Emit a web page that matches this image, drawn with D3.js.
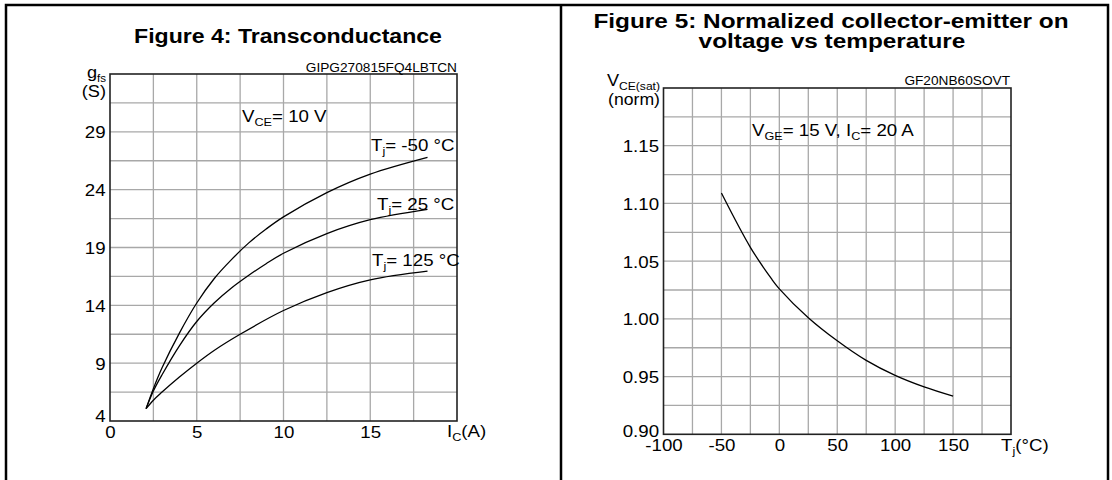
<!DOCTYPE html>
<html><head><meta charset="utf-8">
<script src="https://cdn.jsdelivr.net/npm/d3@7"></script>
<style>
body{margin:0;background:#fff}
svg{display:block}
text{font-family:"Liberation Sans",Arial,Helvetica,sans-serif;fill:#000}
</style>
</head><body>
<svg id="c" width="1112" height="480"></svg>
<script>
// ---------- DATA ----------
const fig4Title = "Figure 4: Transconductance";
const fig4Code = "GIPG270815FQ4LBTCN";
const fig4XTicks = [0, 5, 10, 15];
const fig4YTicks = [4, 9, 14, 19, 24, 29];
const fig4Temps = ["-50", "25", "125"];
const fig4IcM50 = [2.08, 2.5, 3, 4, 5, 6, 7, 8, 9, 10, 12.5, 15, 18.3];
const fig4GfsM50 = [5.07, 6.8, 8.6, 11.6, 14.2, 16.3, 17.95, 19.4, 20.6, 21.65, 23.75, 25.35, 26.8];
const fig4Ic25 = [2.08, 2.5, 3, 4, 5, 6, 7, 8, 9, 10, 12.5, 15, 18.3];
const fig4Gfs25 = [5.07, 6.6, 8.0, 10.5, 12.6, 14.2, 15.5, 16.6, 17.6, 18.5, 20.2, 21.4, 22.3];
const fig4Ic125 = [2.08, 2.5, 3, 4, 5, 6, 7.5, 10, 12.5, 15, 18.3];
const fig4Gfs125 = [5.07, 5.8, 6.5, 7.8, 9.0, 10.1, 11.5, 13.55, 15.1, 16.2, 16.95];

const fig5TitleLines = ["Figure 5: Normalized collector-emitter on", "voltage vs temperature"];
const fig5Code = "GF20NB60SOVT";
const fig5XTicks = [-100, -50, 0, 50, 100, 150];
const fig5YTicks = [0.90, 0.95, 1.00, 1.05, 1.10, 1.15];
const fig5Tj = [-50, -25, -7, 0, 25, 50, 75, 100, 125, 150];
const fig5Vce = [1.109, 1.062, 1.035, 1.026, 1.001, 0.981, 0.964, 0.951, 0.941, 0.933];

// ---------- DRAWING ----------
const svg = d3.select("#c");
const SX = 1.1;
const GRID = "#a8a8a8";

// text helper: parts = [[str, isSub], ...]
function label(g, x, y, parts, o = {}) {
  const size = o.size || 17, sx = o.sx || SX;
  const t = g.append("text")
    .attr("transform", `translate(${x},${y}) scale(${sx},1)`)
    .attr("text-anchor", o.anchor || "start")
    .attr("font-size", size)
    .attr("font-weight", o.weight || "normal");
  let shifted = false;
  parts.forEach(([s, sub]) => {
    const ts = t.append("tspan").text(s);
    if (sub) { ts.attr("font-size", o.subSize || 11.5).attr("dy", shifted ? 0 : 3.5); shifted = true; }
    else { if (shifted) { ts.attr("dy", -3.5); shifted = false; } }
  });
  return t;
}

// outer frame
svg.append("rect").attr("x", 6).attr("y", 5).attr("width", 1102).attr("height", 520)
  .attr("fill", "none").attr("stroke", "#000").attr("stroke-width", 2.5);
svg.append("line").attr("x1", 561).attr("x2", 561).attr("y1", 5).attr("y2", 480)
  .attr("stroke", "#000").attr("stroke-width", 2.5);

function panel(cfg) {
  const g = svg.append("g");
  const x = d3.scaleLinear().domain(cfg.xDomain).range([cfg.left, cfg.right]);
  const y = d3.scaleLinear().domain(cfg.yDomain).range([cfg.bottom, cfg.top]);
  // grid
  g.append("g").selectAll("line").data(d3.range(cfg.xDomain[0] + cfg.xStep, cfg.xDomain[1] - cfg.xStep / 2, cfg.xStep))
    .join("line").attr("x1", d => x(d)).attr("x2", d => x(d)).attr("y1", cfg.top).attr("y2", cfg.bottom)
    .attr("stroke", GRID).attr("stroke-width", 1.3);
  g.append("g").selectAll("line").data(d3.range(cfg.yDomain[0] + cfg.yStep, cfg.yDomain[1] - cfg.yStep / 2, cfg.yStep))
    .join("line").attr("y1", d => y(d)).attr("y2", d => y(d)).attr("x1", cfg.left).attr("x2", cfg.right)
    .attr("stroke", GRID).attr("stroke-width", 1.3);
  // frame
  g.append("rect").attr("x", cfg.left).attr("y", cfg.top)
    .attr("width", cfg.right - cfg.left).attr("height", cfg.bottom - cfg.top)
    .attr("fill", "none").attr("stroke", "#222").attr("stroke-width", 1.6);
  // axes
  const ax = g.append("g").attr("transform", `translate(0,${cfg.bottom})`)
    .call(d3.axisBottom(x).tickValues(cfg.xTicks).tickSize(0).tickPadding(5).tickFormat(d => String(d)));
  const ay = g.append("g").attr("transform", `translate(${cfg.left},0)`)
    .call(d3.axisLeft(y).tickValues(cfg.yTicks).tickSize(0).tickPadding(4).tickFormat(cfg.yFormat));
  [ax, ay].forEach(a => {
    a.select(".domain").remove();
    a.attr("font-family", null).attr("font-size", null);
    a.selectAll("text").attr("font-size", 17).attr("fill", "#000")
      .attr("transform", `scale(${SX},1)`);
  });
  ax.selectAll("text").attr("dy", "0.71em");
  ay.selectAll("text").attr("dy", d => d === cfg.yTicks[0] ? (5.95 - cfg.lowShift) + "px" : "0.35em");
  // curves
  const line = d3.line().x(d => x(d[0])).y(d => y(d[1])).curve(d3.curveCatmullRom.alpha(0.5));
  cfg.series.forEach(s => {
    g.append("path").attr("d", line(d3.zip(s[0], s[1])))
      .attr("fill", "none").attr("stroke", "#000").attr("stroke-width", 1.3);
  });
  return { g, x, y };
}

// ---- Figure 4 ----
const p4 = panel({
  left: 110, right: 457, top: 74, bottom: 421, lowShift: 5.5,
  xDomain: [0, 20], yDomain: [4, 34], xStep: 2.5, yStep: 2.5,
  xTicks: fig4XTicks, yTicks: fig4YTicks, yFormat: d => String(d),
  series: [[fig4IcM50, fig4GfsM50], [fig4Ic25, fig4Gfs25], [fig4Ic125, fig4Gfs125]]
});
label(svg, 288, 43, [[fig4Title]], { size: 21, weight: "bold", anchor: "middle", sx: 1.1 });
label(svg, 457, 72, [[fig4Code]], { size: 12, anchor: "end", sx: 1.14 });
label(svg, 106, 78, [["g"], ["fs", true]], { anchor: "end", subSize: 10.5, size: 16.5 });
label(svg, 106, 97, [["(S)"]], { anchor: "end", size: 16.5 });
label(svg, 447, 437, [["I"], ["C", true], ["(A)"]], {});
label(svg, 242, 122, [["V"], ["CE", true], ["= 10 V"]], {});
label(svg, 371, 151, [["T"], ["j", true], ["= " + fig4Temps[0] + " °C"]], {});
label(svg, 377, 210, [["T"], ["j", true], ["= " + fig4Temps[1] + " °C"]], {});
label(svg, 372, 266, [["T"], ["j", true], ["= " + fig4Temps[2] + " °C"]], {});

// ---- Figure 5 ----
const p5 = panel({
  left: 663.5, right: 1011, top: 88, bottom: 434.3, lowShift: 3.5,
  xDomain: [-100, 200], yDomain: [0.9, 1.2], xStep: 25, yStep: 0.025,
  xTicks: fig5XTicks, yTicks: fig5YTicks, yFormat: d3.format(".2f"),
  series: [[fig5Tj, fig5Vce]]
});
label(svg, 831, 28, [[fig5TitleLines[0]]], { size: 19.5, weight: "bold", anchor: "middle", sx: 1.25 });
label(svg, 832, 48, [[fig5TitleLines[1]]], { size: 19.5, weight: "bold", anchor: "middle", sx: 1.25 });
label(svg, 1010, 85, [[fig5Code]], { size: 12, anchor: "end", sx: 1.14 });
label(svg, 660, 86, [["V"], ["CE(sat)", true]], { anchor: "end", size: 16.5, subSize: 11 });
label(svg, 660, 105, [["(norm)"]], { anchor: "end", sx: 1.07, size: 16.5 });
label(svg, 1001, 451, [["T"], ["j", true], ["(°C)"]], {});
label(svg, 752, 136, [["V"], ["GE", true], ["= 15 V, I"], ["C", true], ["= 20 A"]], {});
</script>
</body></html>
